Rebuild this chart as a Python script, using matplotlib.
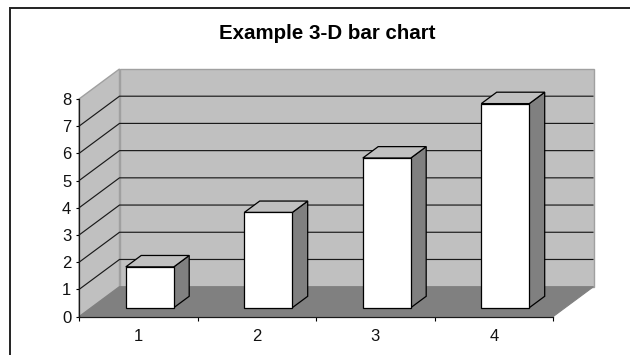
import matplotlib
matplotlib.use("Agg")
import matplotlib.pyplot as plt
from matplotlib.lines import Line2D
from matplotlib.patches import Polygon

plt.rcParams['font.family'] = ['Liberation Sans', 'DejaVu Sans']

# Chart values
categories = ['1', '2', '3', '4']
values = [1.5, 3.5, 5.5, 7.5]
y_ticks = [0, 1, 2, 3, 4, 5, 6, 7, 8]

W, H = 630, 355

# Oblique projection: one unit of depth, expressed in data units
DEPTH_X = 40.5 / 118.5
DEPTH_Y = 30 / 27.2
BAR_WIDTH = 0.405
BAR_FRONT = 0.30
BAR_BACK = 0.68


def project(x, y, d=0.0):
    return (x + d * DEPTH_X, y + d * DEPTH_Y)


def face(ax, corners, color, edge='black', lw=0.9, z=2):
    ax.add_patch(Polygon([project(*c) for c in corners], closed=True, facecolor=color,
                         edgecolor=edge, linewidth=lw, joinstyle='miter', zorder=z, clip_on=False))


fig = plt.figure(figsize=(W / 100, H / 100), dpi=100, facecolor='white')
ax = fig.add_axes([79 / W, (H - 316.7) / H, (553 - 79) / W, (316.7 - 99) / H])
ax.patch.set_visible(False)

n = len(categories)
y_max = y_ticks[-1]
ax.set_xlim(0, n)
ax.set_ylim(0, y_max)

# Walls and floor
wall_edge = '#a0a0a0'
face(ax, [(0, 0, 1), (n, 0, 1), (n, y_max, 1), (0, y_max, 1)], '#c0c0c0', wall_edge, 1.0, 1)
face(ax, [(0, 0, 0), (0, 0, 1), (0, y_max, 1), (0, y_max, 0)], '#c0c0c0', wall_edge, 1.0, 1)
face(ax, [(0, 0, 0), (n, 0, 0), (n, 0, 1), (0, 0, 1)], '#808080', '#808080', 0.8, 1.2)

# Gridlines run along the side wall and the back wall
for v in y_ticks[1:-1]:
    pts = [project(0, v, 0), project(0, v, 1), project(n, v, 1)]
    ax.plot([p[0] for p in pts], [p[1] for p in pts], color='#1a1a1a', lw=0.85,
            zorder=1.5, clip_on=False, solid_capstyle='butt')

# Bars: front, top and side faces
for i, v in enumerate(values):
    x0 = i + 0.495 - BAR_WIDTH / 2
    x1 = i + 0.495 + BAR_WIDTH / 2
    face(ax, [(x1, 0, BAR_FRONT), (x1, 0, BAR_BACK), (x1, v, BAR_BACK), (x1, v, BAR_FRONT)], '#808080', z=3)
    face(ax, [(x0, v, BAR_FRONT), (x1, v, BAR_FRONT), (x1, v, BAR_BACK), (x0, v, BAR_BACK)], '#c0c0c0', z=3)
    face(ax, [(x0, 0, BAR_FRONT), (x1, 0, BAR_FRONT), (x1, v, BAR_FRONT), (x0, v, BAR_FRONT)], 'white', z=4)

# Axes
for side in ['top', 'right']:
    ax.spines[side].set_visible(False)
for side in ['left', 'bottom']:
    ax.spines[side].set_linewidth(0.9)
    ax.spines[side].set_color('#1a1a1a')

ax.set_yticks(y_ticks)
ax.tick_params(axis='y', length=2.5, width=0.8, pad=3, labelsize=12, labelcolor='#111111')
ax.set_xticks(range(n + 1))
ax.set_xticklabels([])
ax.set_xticks([i + 0.5 for i in range(n)], minor=True)
ax.set_xticklabels(categories, minor=True)
ax.tick_params(axis='x', which='major', length=3, width=0.8)
ax.tick_params(axis='x', which='minor', length=0, pad=8.5, labelsize=12, labelcolor='#111111')

# Title
fig.text(327 / W, (H - 39) / H, 'Example 3-D bar chart', ha='center', va='baseline',
         fontsize=14.8, fontweight='bold', color='black')

# Chart area frame, only its top and left edges are in view
fig.add_artist(Line2D([10 / W, 10 / W, 1], [0, (H - 8) / H, (H - 8) / H], color='#222222', lw=1.4,
                      transform=fig.transFigure, solid_joinstyle='miter'))

fig.savefig('out.png', dpi=100)
